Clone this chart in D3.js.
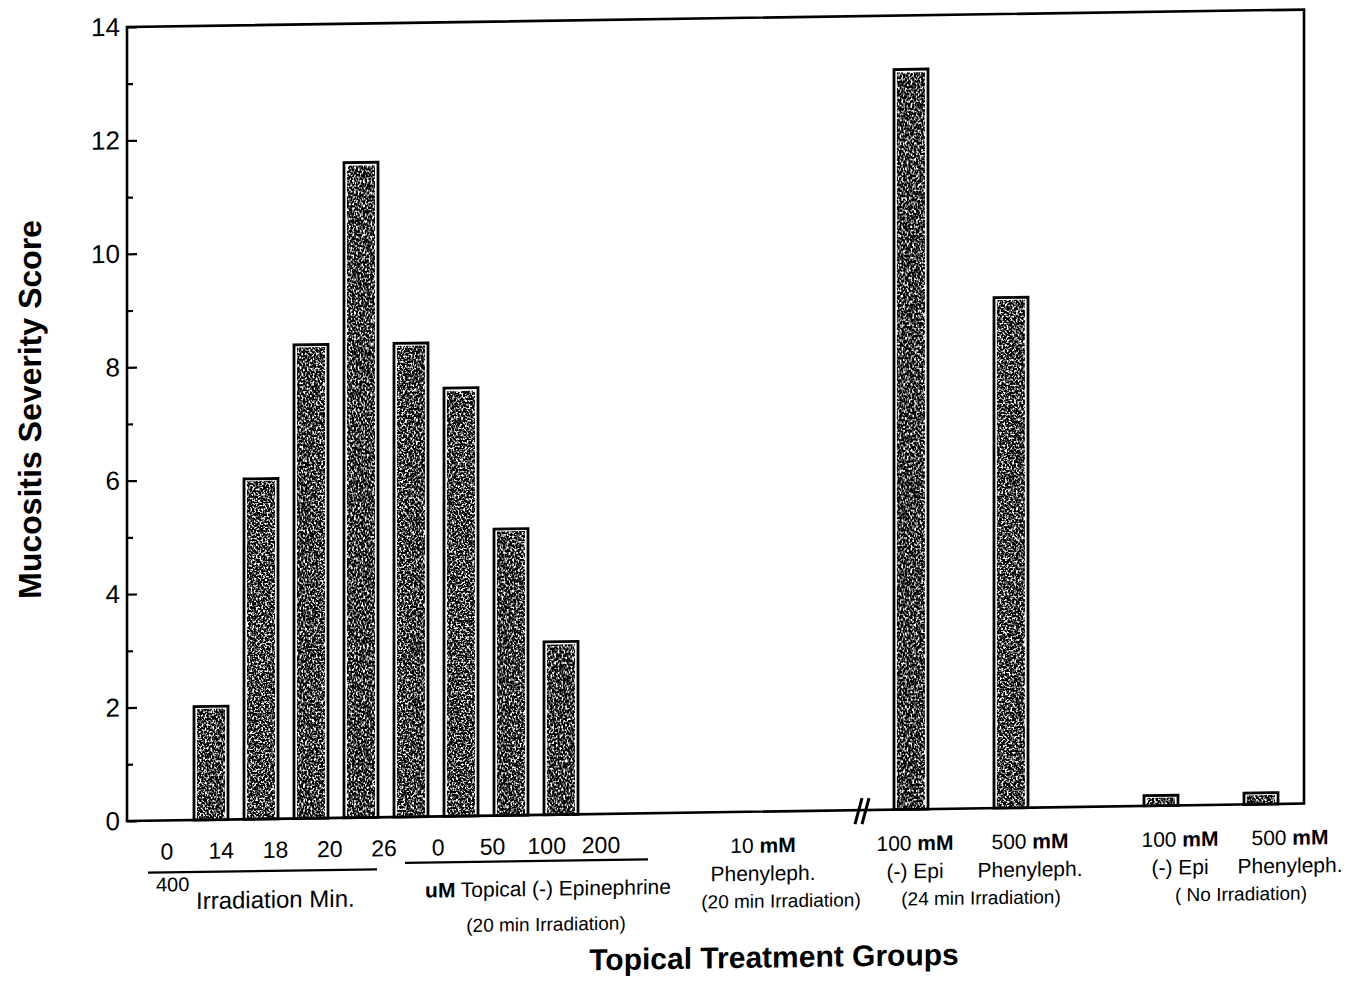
<!DOCTYPE html>
<html lang="en">
<head>
<meta charset="UTF-8">
<title>Mucositis Severity Score</title>
<script src="https://d3js.org/d3.v7.min.js"></script>
<style>
  body { margin: 0; padding: 0; background: #fff; }
  svg { display: block; font-family: "Liberation Sans", Arial, Helvetica, sans-serif; }
  .tick line { stroke: #000; stroke-width: 2.2px; }
  .tick text { font-size: 26px; fill: #000; }
  .frame { fill: none; stroke: #000; stroke-width: 2.6px; }
  .bar-outer { fill: #fff; stroke: #000; stroke-width: 2.8px; }
</style>
</head>
<body>
<svg id="chart" width="1357" height="981"></svg>
<script>
// bars: label, slot along the x axis, mucositis score
var barNames = ["0 min", "14 min", "18 min", "20 min", "26 min",
                "0 uM", "50 uM", "100 uM", "200 uM",
                "10 mM Phenyleph.", "100 mM (-) Epi", "500 mM Phenyleph.",
                "100 mM (-) Epi no irr.", "500 mM Phenyleph. no irr."];
var barSlots = [0, 1, 2, 3, 4, 5, 6, 7, 8, 12, 15, 17, 20, 22];
var scores = [0, 2.0, 6.0, 8.35, 11.55, 8.35, 7.55, 5.05, 3.05, 0, 13.05, 9.0, 0.18, 0.2];

var yTicks = [0, 2, 4, 6, 8, 10, 12, 14];
var yMinor = [1, 3, 5, 7, 9, 11, 13];

var doseLabels = ["0", "14", "18", "20", "26", "0", "50", "100", "200"];
var groupTop = ["10", "100", "500", "100", "500"];
var groupSecond = ["Phenyleph.", "(-) Epi", "Phenyleph.", "(-) Epi", "Phenyleph."];
var groupSlots = [12, 15, 17, 20, 22];
var groupNudge = [2, 4, 19, 19, 29];
var groupNotes = ["(20 min Irradiation)", "(24 min Irradiation)", "( No Irradiation)"];
var noteSlots = [12.4, 16.4, 21.6];

var svg = d3.select("#chart");

// speckled fill like the printed bars
var defs = svg.append("defs");
var f = defs.append("filter").attr("id", "speckle")
    .attr("x", 0).attr("y", 0).attr("width", 1).attr("height", 1)
    .attr("color-interpolation-filters", "sRGB");
f.append("feTurbulence").attr("type", "fractalNoise")
    .attr("baseFrequency", 0.55).attr("numOctaves", 2).attr("seed", 7);
f.append("feColorMatrix").attr("type", "matrix")
    .attr("values", "5 0 0 0 -2.3  5 0 0 0 -2.3  5 0 0 0 -2.3  0 0 0 0 1");

// the scan is slightly sheared, so the whole figure is too
var k = -0.0148, x0 = 127;
var g = svg.append("g")
    .attr("transform", "matrix(1," + k + ",0,1,0," + (-k * x0) + ")");

var left = 127, right = 1304;
var x = d3.scaleLinear().domain([0, 1]).range([161, 211]);
var y = d3.scaleLinear().domain([0, 14]).range([821, 27]);

// y axis ticks, pointing inward
var yAxis = g.append("g").attr("transform", "translate(" + left + ",0)")
    .call(d3.axisLeft(y).tickValues(yTicks).tickSize(-10).tickPadding(7));
yAxis.select(".domain").remove();
var yAxisMinor = g.append("g").attr("transform", "translate(" + left + ",0)")
    .call(d3.axisLeft(y).tickValues(yMinor).tickSize(-6).tickFormat(""));
yAxisMinor.select(".domain").remove();

// bars
var bw = 34;
var bars = g.selectAll(".bar").data(scores.map(function(s, i) {
        return { name: barNames[i], slot: barSlots[i], v: s };
    }).filter(function(d) { return d.v > 0; }))
    .enter().append("g").attr("class", "bar");
bars.append("rect").attr("class", "bar-outer")
    .attr("x", function(d) { return x(d.slot) - bw / 2; })
    .attr("y", function(d) { return y(d.v); })
    .attr("width", bw)
    .attr("height", function(d) { return y(0) - y(d.v); });
bars.append("rect")
    .attr("x", function(d) { return x(d.slot) - bw / 2 + 3.2; })
    .attr("y", function(d) { return y(d.v) + 3.2; })
    .attr("width", bw - 6.4)
    .attr("height", function(d) { return Math.max(1, y(0) - y(d.v) - 4.5); })
    .attr("fill", "#444")
    .attr("filter", "url(#speckle)");

// frame
g.append("rect").attr("class", "frame")
    .attr("x", left).attr("y", y(14))
    .attr("width", right - left).attr("height", y(0) - y(14));

// axis break
var bx = x(14);
[0, 7].forEach(function(o) {
    g.append("line")
        .attr("x1", bx - 6 + o).attr("y1", y(0) + 14)
        .attr("x2", bx + 1 + o).attr("y2", y(0) - 12)
        .attr("stroke", "#000").attr("stroke-width", 3);
});

// dose labels under the first two groups
var doseX = d3.scaleLinear().domain([0, doseLabels.length - 1]).range([167, 601]);
g.selectAll(".dose").data(doseLabels).enter().append("text")
    .attr("class", "dose")
    .attr("x", function(d, i) { return doseX(i); })
    .attr("y", 860)
    .attr("text-anchor", "middle")
    .style("font-size", "23px")
    .text(function(d) { return d; });

g.append("line").attr("x1", 148).attr("x2", 377).attr("y1", 873).attr("y2", 873)
    .attr("stroke", "#000").attr("stroke-width", 2.2);
g.append("line").attr("x1", 405).attr("x2", 648).attr("y1", 867).attr("y2", 867)
    .attr("stroke", "#000").attr("stroke-width", 2.2);

g.append("text").attr("x", 156).attr("y", 892).style("font-size", "20px").text("400");
g.append("text").attr("x", 196).attr("y", 910).style("font-size", "24px").text("Irradiation Min.");

var ep = g.append("text").attr("x", 548).attr("y", 902).attr("text-anchor", "middle")
    .style("font-size", "21px");
ep.append("tspan").style("font-weight", "bold").text("uM");
ep.append("tspan").text(" Topical (-) Epinephrine");
g.append("text").attr("x", 546).attr("y", 937).attr("text-anchor", "middle")
    .style("font-size", "19px").text("(20 min Irradiation)");

// labels under the mM groups
groupTop.forEach(function(t, i) {
    var cx = x(groupSlots[i]) + groupNudge[i];
    var l1 = g.append("text").attr("x", cx).attr("y", 862).attr("text-anchor", "middle")
        .style("font-size", "21px");
    l1.append("tspan").text(t + " ");
    l1.append("tspan").style("font-weight", "bold").text("mM");
    g.append("text").attr("x", cx).attr("y", 890).attr("text-anchor", "middle")
        .style("font-size", "21px").text(groupSecond[i]);
});
groupNotes.forEach(function(t, i) {
    g.append("text").attr("x", x(noteSlots[i])).attr("y", 917).attr("text-anchor", "middle")
        .style("font-size", "19px").text(t);
});

// titles
g.append("text").attr("x", 774).attr("y", 977).attr("text-anchor", "middle")
    .style("font-size", "30px").style("font-weight", "bold")
    .text("Topical Treatment Groups");
g.append("text")
    .attr("transform", "translate(41,408) rotate(-90)")
    .attr("text-anchor", "middle")
    .style("font-size", "32px").style("font-weight", "bold")
    .text("Mucositis Severity Score");
</script>
</body>
</html>
